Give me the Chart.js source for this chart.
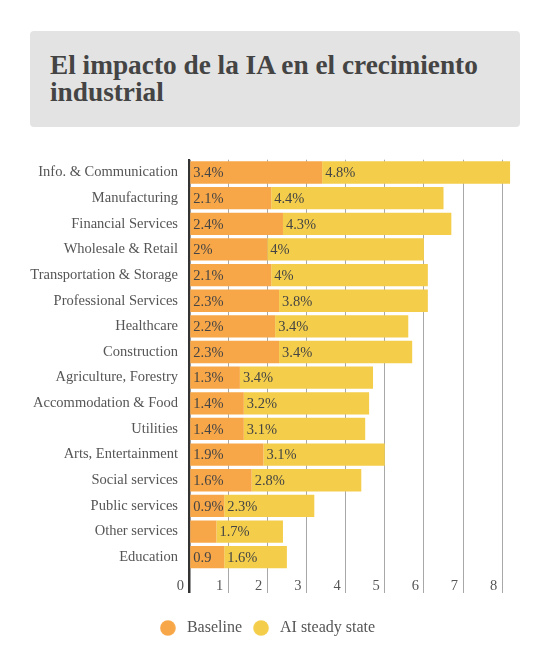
<!DOCTYPE html>
<html>
<head>
<meta charset="utf-8">
<script src="https://cdn.jsdelivr.net/npm/chart.js@4.4.1/dist/chart.umd.min.js"></script>
<style>
    html, body { margin: 0; padding: 0; background: #fff; }
    body { width: 550px; height: 668px; position: relative; overflow: hidden; font-family: 'Liberation Serif', serif; }
    .title-box { position: absolute; left: 30px; top: 31px; width: 490px; height: 96px; box-sizing: border-box; background: #e3e3e3; border-radius: 4px; padding: 21px 20px; }
    .title-box h1 { margin: 0; font: bold 27.3px/27px 'Liberation Serif', serif; color: #444; }
    .chart-wrap { position: absolute; left: 0; top: 140px; width: 550px; height: 528px; }
</style>
</head>
<body>
<div class="title-box"><h1>El impacto de la IA en el crecimiento industrial</h1></div>
<div class="chart-wrap"><canvas id="impactChart"></canvas></div>
<script>
const sectors = [
    'Info. & Communication', 'Manufacturing', 'Financial Services', 'Wholesale & Retail',
    'Transportation & Storage', 'Professional Services', 'Healthcare', 'Construction',
    'Agriculture, Forestry', 'Accommodation & Food', 'Utilities', 'Arts, Entertainment',
    'Social services', 'Public services', 'Other services', 'Education'
];
const baseline = [3.4, 2.1, 2.4, 2, 2.1, 2.3, 2.2, 2.3, 1.3, 1.4, 1.4, 1.9, 1.6, 0.9, 0.7, 0.9];
const aiSteadyState = [4.8, 4.4, 4.3, 4, 4, 3.8, 3.4, 3.4, 3.4, 3.2, 3.1, 3.1, 2.8, 2.3, 1.7, 1.6];
// labels as printed on the bars (Other services has none, Education has no %)
const baselineLabels = ['3.4%', '2.1%', '2.4%', '2%', '2.1%', '2.3%', '2.2%', '2.3%', '1.3%', '1.4%', '1.4%', '1.9%', '1.6%', '0.9%', '', '0.9'];
const aiLabels = ['4.8%', '4.4%', '4.3%', '4%', '4%', '3.8%', '3.4%', '3.4%', '3.4%', '3.2%', '3.1%', '3.1%', '2.8%', '2.3%', '1.7%', '1.6%'];
const axisMax = 8.3;

const FONT = "'Liberation Serif', serif";
const TEXT = '#555';
const ORANGE = '#F8A748';
const YELLOW = '#F4CE4B';

// legend dot drawn a bit left of its box so the text sits further away
const makeDot = color => {
    const c = document.createElement('canvas');
    c.width = 22;
    c.height = 16;
    const g = c.getContext('2d');
    g.fillStyle = color;
    g.beginPath();
    g.arc(8, 8, 7.8, 0, Math.PI * 2);
    g.fill();
    return c;
};

// writes the values inside each bar segment, at its left end
const barLabels = {
    id: 'barLabels',
    afterDatasetsDraw(chart) {
        const ctx = chart.ctx;
        const texts = [baselineLabels, aiLabels];
        ctx.save();
        ctx.font = "14.5px " + FONT;
        ctx.fillStyle = '#444';
        ctx.textAlign = 'left';
        ctx.textBaseline = 'middle';
        chart.data.datasets.forEach((ds, i) => {
            chart.getDatasetMeta(i).data.forEach((bar, j) => {
                const t = texts[i][j];
                if (!t) return;
                ctx.fillText(t, Math.min(bar.x, bar.base) + 3, bar.y + 1);
            });
        });
        ctx.restore();
    }
};

new Chart(document.getElementById('impactChart'), {
    type: 'bar',
    data: {
        labels: sectors,
        datasets: [
            { label: 'Baseline', data: baseline, backgroundColor: ORANGE, pointStyle: makeDot(ORANGE), borderWidth: 0, categoryPercentage: 1, barPercentage: 0.87 },
            { label: 'AI steady state', data: aiSteadyState, backgroundColor: YELLOW, pointStyle: makeDot(YELLOW), borderWidth: 0, categoryPercentage: 1, barPercentage: 0.87 }
        ]
    },
    options: {
        indexAxis: 'y',
        responsive: true,
        maintainAspectRatio: false,
        animation: false,
        layout: { padding: { top: 18, right: 36, bottom: 22, left: 24 } },
        scales: {
            x: {
                stacked: true,
                min: 0,
                max: axisMax,
                border: { display: false },
                grid: {
                    color: c => (c.tick && c.tick.value === 0 ? '#333' : '#a8a8a8'),
                    lineWidth: c => (c.tick && c.tick.value === 0 ? 2.5 : 1),
                    tickLength: 23
                },
                ticks: {
                    stepSize: 1,
                    includeBounds: false,
                    align: 'end',
                    labelOffset: -5,
                    padding: -16,
                    color: TEXT,
                    font: { family: FONT, size: 14.5 }
                },
                afterFit: s => { s.height = 36; }
            },
            y: {
                stacked: true,
                z: 1,
                grid: { display: false, drawTicks: false },
                border: { display: true, color: '#333', width: 2 },
                ticks: { autoSkip: false, padding: 11, color: TEXT, font: { family: FONT, size: 14.5 } },
                afterFit: s => { s.width = 165; }
            }
        },
        plugins: {
            legend: {
                position: 'bottom',
                labels: {
                    usePointStyle: true,
                    boxWidth: 16,
                    boxHeight: 11,
                    padding: 14,
                    color: TEXT,
                    font: { family: FONT, size: 16 }
                }
            },
            tooltip: { enabled: false }
        }
    },
    plugins: [barLabels]
});
</script>
</body>
</html>
